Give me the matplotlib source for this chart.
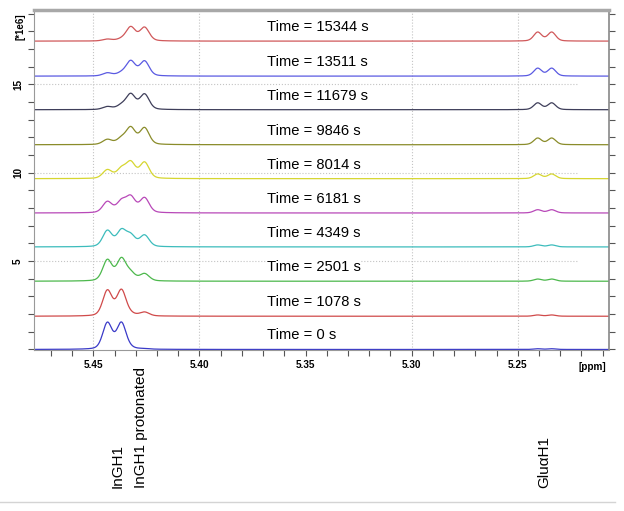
import numpy as np
import matplotlib
matplotlib.use("Agg")
import matplotlib.pyplot as plt
from matplotlib.lines import Line2D
from matplotlib.ticker import MultipleLocator, FixedLocator
import matplotlib.transforms as mtransforms

plt.rcParams['font.family'] = ['Liberation Sans', 'DejaVu Sans']

# acquisition times (s) and stacking offset of each spectrum (*1e6)
times = [0, 1078, 2501, 4349, 6181, 8014, 9846, 11679, 13511, 15344]
offsets = [0.0, 1.88, 3.86, 5.80, 7.72, 9.66, 11.58, 13.56, 15.46, 17.44]

# peak centres (ppm) and gaussian widths (ppm)
peak_ppm = [5.4434, 5.4368, 5.4324, 5.4259, 5.2406, 5.2340]
peak_sigma = [0.0022, 0.0022, 0.0022, 0.0022, 0.0019, 0.0019]

# peak heights per spectrum (*1e6)
ingh1_a = [1.48, 1.43, 1.18, 0.90, 0.62, 0.48, 0.28, 0.16, 0.17, 0.10]
ingh1_b = [1.48, 1.45, 1.22, 0.88, 0.62, 0.52, 0.32, 0.22, 0.15, 0.09]
prot_a = [0.04, 0.08, 0.40, 0.60, 0.86, 0.88, 0.93, 0.85, 0.83, 0.78]
prot_b = [0.03, 0.21, 0.40, 0.64, 0.83, 0.90, 0.93, 0.86, 0.83, 0.76]
glu_a = [0.04, 0.07, 0.12, 0.11, 0.18, 0.26, 0.37, 0.38, 0.44, 0.50]
glu_b = [0.04, 0.07, 0.12, 0.11, 0.18, 0.26, 0.37, 0.38, 0.44, 0.50]

colors = ['#3a3ac8', '#d04a4a', '#4cb84c', '#3cbcbc', '#b848b8',
          '#d6d630', '#8a8c2a', '#3e3e5a', '#5a5ae2', '#d0585a']

annotations = ['InGH1', 'InGH1 protonated', 'Glu\u03b1H1']
annotation_ppm = [5.4387, 5.4278, 5.2373]


def pseudo_voigt(x, x0, sigma, eta=0.3):
    g = np.exp(-(x - x0) ** 2 / (2 * sigma ** 2))
    hw = sigma * np.sqrt(2 * np.log(2))
    l = 1.0 / (1.0 + ((x - x0) / hw) ** 2)
    return (1 - eta) * g + eta * l


ppm = np.linspace(5.478, 5.207, 2000)
heights = np.array([ingh1_a, ingh1_b, prot_a, prot_b, glu_a, glu_b]).T

fig = plt.figure(figsize=(6.24, 5.11), dpi=100)
ax = fig.add_axes([34 / 624, 1 - 350 / 511, 575 / 624, 340 / 511])

# grid
for xv in [5.45, 5.40, 5.30, 5.25]:
    ax.axvline(xv, color='#c4c4c4', lw=0.8, ls=':', zorder=0.5)
for yv in [5, 10, 15]:
    ax.axhline(yv, xmax=0.946, color='#c4c4c4', lw=0.8, ls=':', zorder=0.5)

for i, t in enumerate(times):
    spec = np.zeros_like(ppm)
    for x0, s, h in zip(peak_ppm, peak_sigma, heights[i]):
        spec += h * pseudo_voigt(ppm, x0, s)
    ax.plot(ppm, spec + offsets[i], color=colors[i], lw=0.9, zorder=2)
    ax.text(5.3684, offsets[i] + 0.8, f'Time = {t} s', fontsize=10.6,
            ha='left', va='center', zorder=3,
            bbox=dict(facecolor='white', edgecolor='none', pad=0.5))

ax.set_xlim(5.478, 5.207)
ax.set_ylim(-0.03, 19.2)

ax.xaxis.set_major_locator(FixedLocator([5.45, 5.40, 5.35, 5.30, 5.25]))
ax.xaxis.set_minor_locator(MultipleLocator(0.01))
ax.set_xticklabels(['5.45', '5.40', '5.35', '5.30', '5.25'],
                   fontsize=7.2, fontweight='bold')
ax.yaxis.set_major_locator(FixedLocator([5, 10, 15]))
ax.yaxis.set_minor_locator(MultipleLocator(1))
ax.set_yticklabels(['5', '10', '15'], fontsize=7.2, fontweight='bold',
                   rotation=90, va='center')

ax.tick_params(which='both', direction='out', length=4, width=0.8,
               color='#555555')
ax.tick_params(axis='x', pad=3.5)
ax.tick_params(axis='y', pad=4, right=True, which='both')

ax.spines['top'].set_color('#a8a8a8')
ax.spines['top'].set_linewidth(2.5)
ax.spines['right'].set_color('#888888')
ax.spines['right'].set_linewidth(1.2)
ax.spines['left'].set_color('#999999')
ax.spines['bottom'].set_color('#999999')

fig.text(20 / 624, 1 - 27 / 511, '[*1e6]', rotation=90, fontsize=7,
         fontweight='bold', ha='center', va='center')
fig.text(592 / 624, 1 - 367 / 511, '[ppm]', fontsize=7.2,
         fontweight='bold', ha='center', va='center')

trans = mtransforms.blended_transform_factory(ax.transData, ax.transAxes)
for name, xp in zip(annotations, annotation_ppm):
    ax.text(xp, -0.406, name, transform=trans, rotation=90, fontsize=11,
            ha='center', va='bottom')

fig.add_artist(Line2D([0, 0.985], [1 - 502 / 511, 1 - 502 / 511],
                      color='#d4d4d4', lw=1, transform=fig.transFigure))

fig.savefig('out.png', dpi=100, facecolor='white')
